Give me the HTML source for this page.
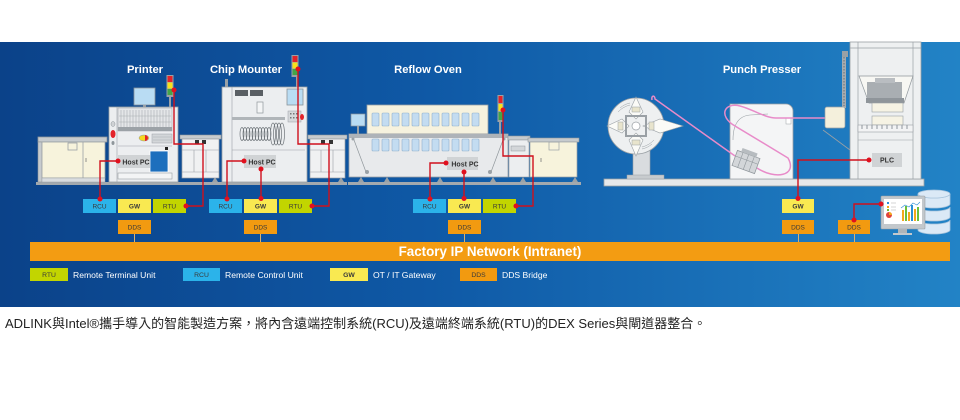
<!DOCTYPE html>
<html><head><meta charset="utf-8"><style>
html,body{margin:0;padding:0;background:#fff;width:960px;height:420px;overflow:hidden}
svg{display:block;position:absolute;left:0;top:0}
</style></head><body>
<svg width="960" height="420" viewBox="0 0 960 420" xmlns="http://www.w3.org/2000/svg" font-family="'Liberation Sans','Noto Sans CJK TC',sans-serif">
<defs>
<linearGradient id="bg" x1="0" y1="0" x2="1" y2="0">
<stop offset="0" stop-color="#0b4289"/><stop offset="0.45" stop-color="#0f59a6"/><stop offset="1" stop-color="#2283c6"/>
</linearGradient>
</defs>
<rect x="0" y="0" width="960" height="420" fill="#fff"/>
<rect x="0" y="42" width="960" height="265" fill="url(#bg)"/>

<!-- titles -->
<g fill="#fff" font-weight="bold" font-size="11.2" text-anchor="middle">
<text x="145" y="73">Printer</text>
<text x="246" y="73">Chip Mounter</text>
<text x="428" y="73">Reflow Oven</text>
<text x="762" y="73">Punch Presser</text>
</g>

<!-- floor rails -->
<rect x="36" y="182" width="311" height="3" fill="#a3a9ae"/>
<rect x="348" y="182" width="233" height="3" fill="#a3a9ae"/>
<g fill="#9aa1a6">
<path d="M112 182l3-5 3 5z M168 182l3-5 3 5z M212 182l3-5 3 5z M300 182l3-5 3 5z M338 182l3-5 3 5z M358 182l3-5 3 5z M384 182l3-5 3 5z M437 182l3-5 3 5z M490 182l3-5 3 5z M520 182l3-5 3 5z M572 182l3-5 3 5z"/>
</g>

<!-- left cabinet -->
<rect x="38" y="137" width="69" height="5" fill="#c7cbce" stroke="#8f969b" stroke-width=".8"/>
<rect x="38" y="142" width="4" height="40" fill="#c7cbce" stroke="#8f969b" stroke-width=".6"/>
<rect x="42" y="142" width="63" height="36" fill="#f7f3dc" stroke="#9aa0a5" stroke-width=".8"/>
<line x1="83" y1="142" x2="83" y2="178" stroke="#9aa0a5" stroke-width=".8"/>
<rect x="68" y="143" width="9" height="7" fill="none" stroke="#9aa0a5" stroke-width=".8"/>
<line x1="86" y1="158" x2="86" y2="162" stroke="#777" stroke-width=".8"/>
<rect x="42" y="178" width="63" height="4" fill="#d9dcdf" stroke="#9aa0a5" stroke-width=".5"/>

<!-- printer -->
<rect x="134" y="88" width="21" height="17" fill="#b9dcf3" stroke="#8a9399" stroke-width=".8"/>
<rect x="143" y="105" width="3" height="3" fill="#9aa0a5"/>
<rect x="109" y="107" width="69" height="75" fill="#eceef0" stroke="#9aa0a5" stroke-width=".8"/>
<line x1="117" y1="107" x2="117" y2="182" stroke="#9aa0a5" stroke-width=".6"/>
<rect x="118" y="108" width="54" height="23" fill="#e4e6e8" stroke="#9aa0a5" stroke-width=".5"/>
<g stroke="#a8adb2" stroke-width=".6">
<path d="M121 110v17M124 110v17M127 110v17M130 110v17M133 110v17M136 110v17M139 110v17M142 110v17M145 110v17M148 110v17M151 110v17M154 110v17M157 110v17M160 110v17M163 110v17M166 110v17M169 110v17"/>
<path d="M119 116h52M119 122h52"/>
</g>
<rect x="118" y="127" width="54" height="4" fill="#9ca2a7"/>
<ellipse cx="113" cy="124" rx="2" ry="2.5" fill="#cfd2d5" stroke="#8f969b" stroke-width=".5"/>
<ellipse cx="113" cy="134" rx="2.5" ry="4" fill="#e3232a"/>
<ellipse cx="113" cy="143" rx="1.5" ry="2" fill="#8f969b"/>
<ellipse cx="144" cy="138" rx="5" ry="3" fill="#f5d81f" stroke="#8f969b" stroke-width=".5"/>
<path d="M145 135a3 3 0 0 1 0 6z" fill="#e3232a"/>
<rect x="152" y="134" width="20" height="9" fill="#d3d6d9" stroke="#9aa0a5" stroke-width=".5"/>
<path d="M153 137h18M153 140h18" stroke="#a8adb2" stroke-width=".5"/>
<line x1="118" y1="146" x2="172" y2="146" stroke="#9aa0a5" stroke-width=".6"/>
<rect x="165" y="147" width="3" height="3" fill="#222"/>
<rect x="150" y="151" width="18" height="21" fill="#1d6fbd" stroke="#fff" stroke-width=".8"/>
<rect x="118" y="173" width="54" height="6" fill="#f3f4f5" stroke="#9aa0a5" stroke-width=".6"/>
<rect x="169" y="97" width="2" height="10" fill="#9aa1a6"/>
<rect x="166.5" y="75" width="7" height="22" fill="#9aa1a6"/>
<rect x="167.5" y="76" width="5" height="6" fill="#e3232a"/>
<rect x="167.5" y="82.5" width="5" height="6" fill="#f7e11b"/>
<rect x="167.5" y="89" width="5" height="6" fill="#43a548"/>

<!-- conveyor 1 -->
<rect x="180" y="135" width="41" height="4" fill="#c7cbce" stroke="#8f969b" stroke-width=".6"/>
<rect x="182" y="139" width="37" height="39" fill="#f0f1f2" stroke="#9aa0a5" stroke-width=".7"/>
<path d="M182 150h37M194 150v22M206 150v22M182 172h37" stroke="#9aa0a5" stroke-width=".6" fill="none"/>
<rect x="195" y="140" width="4" height="4" fill="#333"/><rect x="202" y="140" width="4" height="4" fill="#333"/>

<!-- chip mounter -->
<rect x="225" y="79" width="3" height="9" fill="#9aa1a6"/>
<rect x="222" y="87" width="85" height="95" fill="#eceef0" stroke="#9aa0a5" stroke-width=".8"/>
<line x1="232" y1="87" x2="232" y2="182" stroke="#9aa0a5" stroke-width=".6"/>
<rect x="235" y="90" width="13" height="6" fill="#5a5f64"/>
<rect x="250" y="90" width="13" height="6" fill="#5a5f64"/>
<rect x="257" y="102" width="6" height="11" fill="#f4f5f6" stroke="#8f969b" stroke-width=".7"/>
<rect x="232" y="117" width="53" height="3" fill="#b0b5b9"/>
<rect x="287" y="89" width="16" height="16" fill="#b9dcf3" stroke="#8a9399" stroke-width=".8"/>
<rect x="288" y="111" width="13" height="11" fill="#d6d9dc" stroke="#9aa0a5" stroke-width=".5"/>
<g fill="#777"><rect x="290" y="113" width="1.5" height="1.5"/><rect x="293" y="113" width="1.5" height="1.5"/><rect x="296" y="113" width="1.5" height="1.5"/><rect x="290" y="117" width="1.5" height="1.5"/><rect x="293" y="117" width="1.5" height="1.5"/><rect x="296" y="117" width="1.5" height="1.5"/></g>
<ellipse cx="302" cy="117" rx="2" ry="3" fill="#e3232a"/>
<g fill="none" stroke="#6f757a" stroke-width=".7">
<ellipse cx="242" cy="134" rx="2" ry="6.5"/><ellipse cx="245" cy="134" rx="2" ry="6.5"/><ellipse cx="248" cy="134" rx="2" ry="6.5"/><ellipse cx="251" cy="134" rx="2" ry="6.5"/><ellipse cx="254" cy="134" rx="2" ry="6.5"/><ellipse cx="257" cy="134" rx="2" ry="6.5"/><ellipse cx="260" cy="134" rx="2" ry="6.5"/><ellipse cx="263" cy="134" rx="2" ry="6.5"/><ellipse cx="266" cy="134" rx="2" ry="6.5"/><ellipse cx="269" cy="134" rx="2" ry="6.5"/>
<ellipse cx="273" cy="134" rx="2.5" ry="11"/><ellipse cx="276" cy="134" rx="2.5" ry="11"/><ellipse cx="279" cy="134" rx="2.5" ry="11"/><ellipse cx="282" cy="134" rx="2.5" ry="11"/>
</g>
<line x1="232" y1="150" x2="305" y2="150" stroke="#9aa0a5" stroke-width=".5"/>
<rect x="296" y="55" width="2" height="32" fill="#9aa1a6"/>
<rect x="291.5" y="55" width="7" height="22" fill="#9aa1a6"/>
<rect x="292.5" y="56" width="5" height="6" fill="#e3232a"/>
<rect x="292.5" y="62.5" width="5" height="6" fill="#f7e11b"/>
<rect x="292.5" y="69" width="5" height="6" fill="#43a548"/>

<!-- conveyor 2 -->
<rect x="308" y="135" width="39" height="4" fill="#c7cbce" stroke="#8f969b" stroke-width=".6"/>
<rect x="310" y="139" width="35" height="39" fill="#f0f1f2" stroke="#9aa0a5" stroke-width=".7"/>
<path d="M310 150h35M321 150v22M333 150v22M310 172h35" stroke="#9aa0a5" stroke-width=".6" fill="none"/>
<rect x="321" y="140" width="4" height="4" fill="#333"/><rect x="329" y="140" width="4" height="4" fill="#333"/>

<!-- reflow oven -->
<rect x="351" y="114" width="14" height="12" fill="#b9dcf3" stroke="#8a9399" stroke-width=".7"/>
<rect x="357" y="126" width="2" height="8" fill="#9aa1a6"/>
<rect x="367" y="105" width="121" height="29" fill="#f6f2de" stroke="#9aa0a5" stroke-width=".8"/>
<g fill="#c3dcf1" stroke="#8fb0cc" stroke-width=".6">
<rect x="372" y="113" width="7" height="13" rx="1"/><rect x="382" y="113" width="7" height="13" rx="1"/><rect x="392" y="113" width="7" height="13" rx="1"/><rect x="402" y="113" width="7" height="13" rx="1"/><rect x="412" y="113" width="7" height="13" rx="1"/><rect x="422" y="113" width="7" height="13" rx="1"/><rect x="432" y="113" width="7" height="13" rx="1"/><rect x="442" y="113" width="7" height="13" rx="1"/><rect x="452" y="113" width="7" height="13" rx="1"/><rect x="462" y="113" width="7" height="13" rx="1"/><rect x="472" y="113" width="7" height="13" rx="1"/>
</g>
<rect x="349" y="134" width="159" height="43" fill="#e8eaec" stroke="#9aa0a5" stroke-width=".8"/>
<rect x="349" y="134" width="159" height="4" fill="#aeb3b8"/>
<g fill="#c3dcf1" stroke="#8fb0cc" stroke-width=".6">
<rect x="372" y="139" width="7" height="12" rx="1"/><rect x="382" y="139" width="7" height="12" rx="1"/><rect x="392" y="139" width="7" height="12" rx="1"/><rect x="402" y="139" width="7" height="12" rx="1"/><rect x="412" y="139" width="7" height="12" rx="1"/><rect x="422" y="139" width="7" height="12" rx="1"/><rect x="432" y="139" width="7" height="12" rx="1"/><rect x="442" y="139" width="7" height="12" rx="1"/><rect x="452" y="139" width="7" height="12" rx="1"/><rect x="462" y="139" width="7" height="12" rx="1"/><rect x="472" y="139" width="7" height="12" rx="1"/>
</g>
<path d="M354 140L366 172M503 140L491 172" stroke="#8f969b" stroke-width=".7"/>
<circle cx="367" cy="172" r="2" fill="#9aa1a6"/><circle cx="490" cy="172" r="2" fill="#9aa1a6"/>
<circle cx="353" cy="139" r="1.5" fill="#9aa1a6"/><circle cx="504" cy="139" r="1.5" fill="#9aa1a6"/>
<rect x="499" y="120" width="2" height="14" fill="#9aa1a6"/>
<rect x="497.5" y="95" width="6" height="27" fill="#9aa1a6"/>
<rect x="498.5" y="96" width="4" height="7" fill="#e3232a"/>
<rect x="498.5" y="104" width="4" height="7" fill="#f7e11b"/>
<rect x="498.5" y="112" width="4" height="8" fill="#43a548"/>

<!-- right conveyor & cabinet -->
<rect x="508" y="136" width="22" height="4" fill="#c7cbce" stroke="#8f969b" stroke-width=".6"/>
<rect x="509" y="140" width="20" height="37" fill="#eceef0" stroke="#9aa0a5" stroke-width=".6"/>
<rect x="511" y="146" width="14" height="5" fill="#d3d6d9" stroke="#8f969b" stroke-width=".5"/>
<rect x="528" y="138" width="51" height="4" fill="#c7cbce" stroke="#8f969b" stroke-width=".6"/>
<rect x="530" y="142" width="47" height="35" fill="#f7f3dc" stroke="#9aa0a5" stroke-width=".7"/>
<rect x="549" y="142" width="10" height="8" fill="none" stroke="#9aa0a5" stroke-width=".7"/>
<line x1="541" y1="158" x2="541" y2="162" stroke="#777" stroke-width=".8"/>

<!-- punch presser base -->
<rect x="604" y="179" width="320" height="7" fill="#e6e8ea" stroke="#9aa0a5" stroke-width=".8"/>
<!-- reel -->
<rect x="633" y="150" width="17" height="26" fill="#d9dcdf" stroke="#9aa0a5" stroke-width=".6"/>
<rect x="627" y="175" width="37" height="4" fill="#c7cbce" stroke="#9aa0a5" stroke-width=".5"/>
<circle cx="636" cy="126" r="28" fill="#eef0f1" stroke="#9aa0a5" stroke-width=".8"/>
<g fill="none" stroke="#9aa0a5" stroke-width=".5">
<path d="M620 108a22 22 0 0 1 10 -5M618 112a24 24 0 0 1 12 -7M652 144a22 22 0 0 1 -10 5M654 140a24 24 0 0 1 -12 7"/>
</g>
<g fill="#fbfbf7" stroke="#9aa0a5" stroke-width=".6">
<path d="M636 97L643 112L636 119L629 112z"/>
<path d="M636 156L643 140L636 133L629 140z"/>
<path d="M607 126L622 119L629 126L622 133z"/>
<path d="M683 126L660 119L643 126L660 133z"/>
</g>
<rect x="626" y="116" width="20" height="20" fill="none" stroke="#9aa0a5" stroke-width="2"/>
<circle cx="636" cy="126" r="4" fill="#fff" stroke="#9aa0a5" stroke-width=".7"/>
<g fill="#e8e4cc" stroke="#9aa0a5" stroke-width=".5">
<rect x="632" y="107" width="8" height="5"/><rect x="632" y="140" width="8" height="5"/><rect x="618" y="122" width="5" height="8"/><rect x="649" y="122" width="5" height="8"/>
</g>
<!-- middle box -->
<path d="M730 179V104H786a7 7 0 0 1 7 7V179z" fill="#f4f5f6" stroke="#9aa0a5" stroke-width=".8"/>
<rect x="786" y="118" width="5" height="6" fill="#fff" stroke="#9aa0a5" stroke-width=".5"/>
<path d="M733 140C733 125 738 116 750 115L768 114" fill="none" stroke="#9aa0a5" stroke-width=".6"/>
<!-- pink strip -->
<g fill="none" stroke="#e88bc9" stroke-width="1.5">
<path d="M652 100c-1 -5 3 -5 3 -1L735 156"/>
<path d="M757 168C775 180 798 176 788 158L735 126C718 116 724 102 740 106C752 109 765 118 776 118L827 118"/>
</g>
<!-- connector -->
<g transform="rotate(20 746 162)">
<rect x="734" y="154" width="24" height="16" fill="#d3d6d9" stroke="#8f969b" stroke-width=".7"/>
<path d="M740 154v16M746 154v16M752 154v16M734 160h24" stroke="#8f969b" stroke-width=".6"/>
<rect x="738" y="150" width="16" height="4" fill="#b7bcc0"/>
</g>
<!-- chain & device -->
<rect x="842" y="55" width="4" height="53" fill="#a5abb0"/>
<path d="M844 57v49" stroke="#7d8489" stroke-width="1.5" stroke-dasharray="1.5 1.5"/>
<rect x="842" y="51" width="6" height="6" fill="#9aa1a6"/>
<path d="M823 130L850 150" stroke="#9aa0a5" stroke-width=".8"/>
<rect x="825" y="107" width="20" height="21" rx="2" fill="#f4f0dc" stroke="#9aa0a5" stroke-width=".7"/>
<!-- press frame -->
<rect x="850" y="42" width="71" height="137" fill="#eef0f1" stroke="#9aa0a5" stroke-width=".8"/>
<path d="M858 42v137M913 42v137M850 48h71" stroke="#9aa0a5" stroke-width=".7"/>
<path d="M859 76H913L904 103H869z" fill="#f7f7f3" stroke="#8f969b" stroke-width=".7"/>
<rect x="867" y="82" width="35" height="16" fill="#a9aeb2"/>
<rect x="875" y="78" width="20" height="5" fill="#b9bdc1"/>
<rect x="866" y="98" width="38" height="5" fill="#8f959a"/>
<rect x="872" y="103" width="31" height="9" fill="#f6f3e4" stroke="#9aa0a5" stroke-width=".6"/>
<rect x="872" y="116" width="31" height="9" fill="#f6f3e4" stroke="#9aa0a5" stroke-width=".6"/>
<rect x="858" y="125" width="55" height="7" fill="#f2f3f4" stroke="#9aa0a5" stroke-width=".6"/>
<path d="M862 125v4M867 125v4M872 125v4M877 125v4M882 125v4M887 125v4M892 125v4M897 125v4M902 125v4M907 125v4" stroke="#8f969b" stroke-width="1"/>
<line x1="858" y1="140" x2="913" y2="140" stroke="#9aa0a5" stroke-width=".6"/>

<!-- DB and monitor -->
<g fill="#dbe9f6" stroke="#a8c4dc" stroke-width=".8">
<path d="M918 230v-10a16 4 0 0 0 32 0v10a16 4 0 0 1 -32 0z"/>
<path d="M918 217v-10a16 4 0 0 0 32 0v10a16 4 0 0 1 -32 0z"/>
<path d="M918 204v-10a16 4 0 0 0 32 0v10a16 4 0 0 1 -32 0z"/>
<ellipse cx="934" cy="194" rx="16" ry="4"/>
</g>
<rect x="881" y="196" width="44" height="33" rx="1" fill="#c3c8cc" stroke="#9aa0a5" stroke-width=".6"/>
<rect x="884" y="199" width="38" height="25" fill="#fff"/>
<rect x="898" y="229" width="9" height="4" fill="#b0b5b9"/>
<rect x="893" y="233" width="19" height="2" fill="#c3c8cc"/>
<g>
<circle cx="889" cy="215" r="3" fill="#e0443c"/><path d="M889 215v-3a3 3 0 0 1 3 3z" fill="#f3a81b"/>
<rect x="887" y="202" width="2" height="2" fill="#2b8fd6"/><rect x="887" y="206" width="2" height="2" fill="#f3a81b"/><rect x="887" y="209" width="2" height="2" fill="#6cbf3a"/>
<path d="M891 203h5M891 207h5M891 210h5" stroke="#aaa" stroke-width=".6"/>
<rect x="902" y="210" width="2" height="11" fill="#f3a81b"/><rect x="905" y="206" width="2" height="15" fill="#6cbf3a"/><rect x="908" y="212" width="2" height="9" fill="#f3a81b"/><rect x="911" y="205" width="2" height="16" fill="#2b8fd6"/><rect x="914" y="209" width="2" height="12" fill="#f3a81b"/><rect x="917" y="207" width="2" height="14" fill="#6cbf3a"/>
<path d="M901 208l4 -3 4 2 4 -4 4 2 3 -3" stroke="#2b8fd6" stroke-width=".6" fill="none"/>
</g>

<!-- Host PC / PLC labels -->
<g fill="#d0d3d5">
<rect x="118" y="155" width="32" height="13"/>
<rect x="244" y="155" width="32" height="13"/>
<rect x="447" y="157" width="31" height="13"/>
<rect x="872" y="153" width="30" height="14"/>
</g>
<g fill="#333" font-size="7" font-weight="bold" text-anchor="middle">
<text x="136" y="164.5">Host PC</text>
<text x="262" y="164.5">Host PC</text>
<text x="465" y="166.5">Host PC</text>
<text x="887" y="162.5">PLC</text>
</g>

<!-- network bar -->
<rect x="30" y="242" width="920" height="19" fill="#f39c12"/>
<text x="490" y="256" fill="#fff" font-size="13.4" font-weight="bold" text-anchor="middle">Factory IP Network (Intranet)</text>
<g stroke="#d9b26e" stroke-width="1">
<path d="M134.5 234v8M260.5 234v8M464.5 234v8M798.5 234v8M854.5 234v8"/>
</g>

<!-- device boxes -->
<g>
<rect x="83" y="199" width="33" height="14" fill="#2bb3ea"/>
<rect x="118" y="199" width="33" height="14" fill="#f9e951"/>
<rect x="153" y="199" width="33" height="14" fill="#c2d500"/>
<rect x="118" y="220" width="33" height="14" fill="#f29a10"/>
<rect x="209" y="199" width="33" height="14" fill="#2bb3ea"/>
<rect x="244" y="199" width="33" height="14" fill="#f9e951"/>
<rect x="279" y="199" width="33" height="14" fill="#c2d500"/>
<rect x="244" y="220" width="33" height="14" fill="#f29a10"/>
<rect x="413" y="199" width="33" height="14" fill="#2bb3ea"/>
<rect x="448" y="199" width="33" height="14" fill="#f9e951"/>
<rect x="483" y="199" width="33" height="14" fill="#c2d500"/>
<rect x="448" y="220" width="33" height="14" fill="#f29a10"/>
<rect x="782" y="199" width="32" height="14" fill="#f9e951"/>
<rect x="782" y="220" width="32" height="14" fill="#f29a10"/>
<rect x="838" y="220" width="32" height="14" fill="#f29a10"/>
</g>
<g fill="#3a3a3a" font-size="6.5" text-anchor="middle">
<text x="99.5" y="208.5">RCU</text><text x="134.5" y="208.5" font-weight="bold">GW</text><text x="169.5" y="208.5">RTU</text><text x="134.5" y="229.5">DDS</text>
<text x="225.5" y="208.5">RCU</text><text x="260.5" y="208.5" font-weight="bold">GW</text><text x="295.5" y="208.5">RTU</text><text x="260.5" y="229.5">DDS</text>
<text x="429.5" y="208.5">RCU</text><text x="464.5" y="208.5" font-weight="bold">GW</text><text x="499.5" y="208.5">RTU</text><text x="464.5" y="229.5">DDS</text>
<text x="798" y="208.5" font-weight="bold">GW</text><text x="798" y="229.5">DDS</text><text x="854" y="229.5">DDS</text>
</g>

<!-- red connectors -->
<g fill="none" stroke="#d0101c" stroke-width="1.4">
<path d="M118 161H100V199"/>
<path d="M174 90V144H203V206H186"/>
<path d="M244 161H227V199"/>
<path d="M261 169V199"/>
<path d="M298 69V144H329V206H312"/>
<path d="M446 163H430V199"/>
<path d="M464 172V199"/>
<path d="M503 110V156H533V206H516"/>
<path d="M869 160H798V199"/>
<path d="M881 204H854V220"/>
</g>
<g fill="#e0101e">
<circle cx="118" cy="161" r="2.5"/><circle cx="100" cy="199" r="2.5"/>
<circle cx="174" cy="90" r="2.5"/><circle cx="186" cy="206" r="2.5"/>
<circle cx="244" cy="161" r="2.5"/><circle cx="227" cy="199" r="2.5"/>
<circle cx="261" cy="169" r="2.5"/><circle cx="261" cy="198.5" r="2.5"/>
<circle cx="298" cy="69" r="2.5"/><circle cx="312" cy="206" r="2.5"/>
<circle cx="446" cy="163" r="2.5"/><circle cx="430" cy="199" r="2.5"/>
<circle cx="464" cy="172" r="2.5"/><circle cx="464" cy="198.5" r="2.5"/>
<circle cx="503" cy="110" r="2.5"/><circle cx="516" cy="206" r="2.5"/>
<circle cx="869" cy="160" r="2.5"/><circle cx="798" cy="198.5" r="2.5"/>
<circle cx="881" cy="204" r="2.5"/><circle cx="854" cy="220" r="2.5"/>
</g>

<!-- legend -->
<rect x="30" y="268" width="38" height="13" fill="#c2d500"/>
<rect x="183" y="268" width="37" height="13" fill="#2bb3ea"/>
<rect x="330" y="268" width="38" height="13" fill="#f9e951"/>
<rect x="460" y="268" width="37" height="13" fill="#f29a10"/>
<g fill="#3a3a3a" font-size="6.8" text-anchor="middle">
<text x="49" y="277">RTU</text><text x="201.5" y="277">RCU</text><text x="349" y="277" font-weight="bold">GW</text><text x="478.5" y="277">DDS</text>
</g>
<g fill="#fff" font-size="8.6">
<text x="73" y="278">Remote Terminal Unit</text>
<text x="225" y="278">Remote Control Unit</text>
<text x="373" y="278">OT / IT Gateway</text>
<text x="502" y="278">DDS Bridge</text>
</g>

<!-- caption -->
<text x="5" y="328" font-size="13" fill="#222">ADLINK與Intel®攜手導入的智能製造方案，將內含遠端控制系統(RCU)及遠端終端系統(RTU)的DEX Series與閘道器整合。</text>
</svg>
</body></html>
